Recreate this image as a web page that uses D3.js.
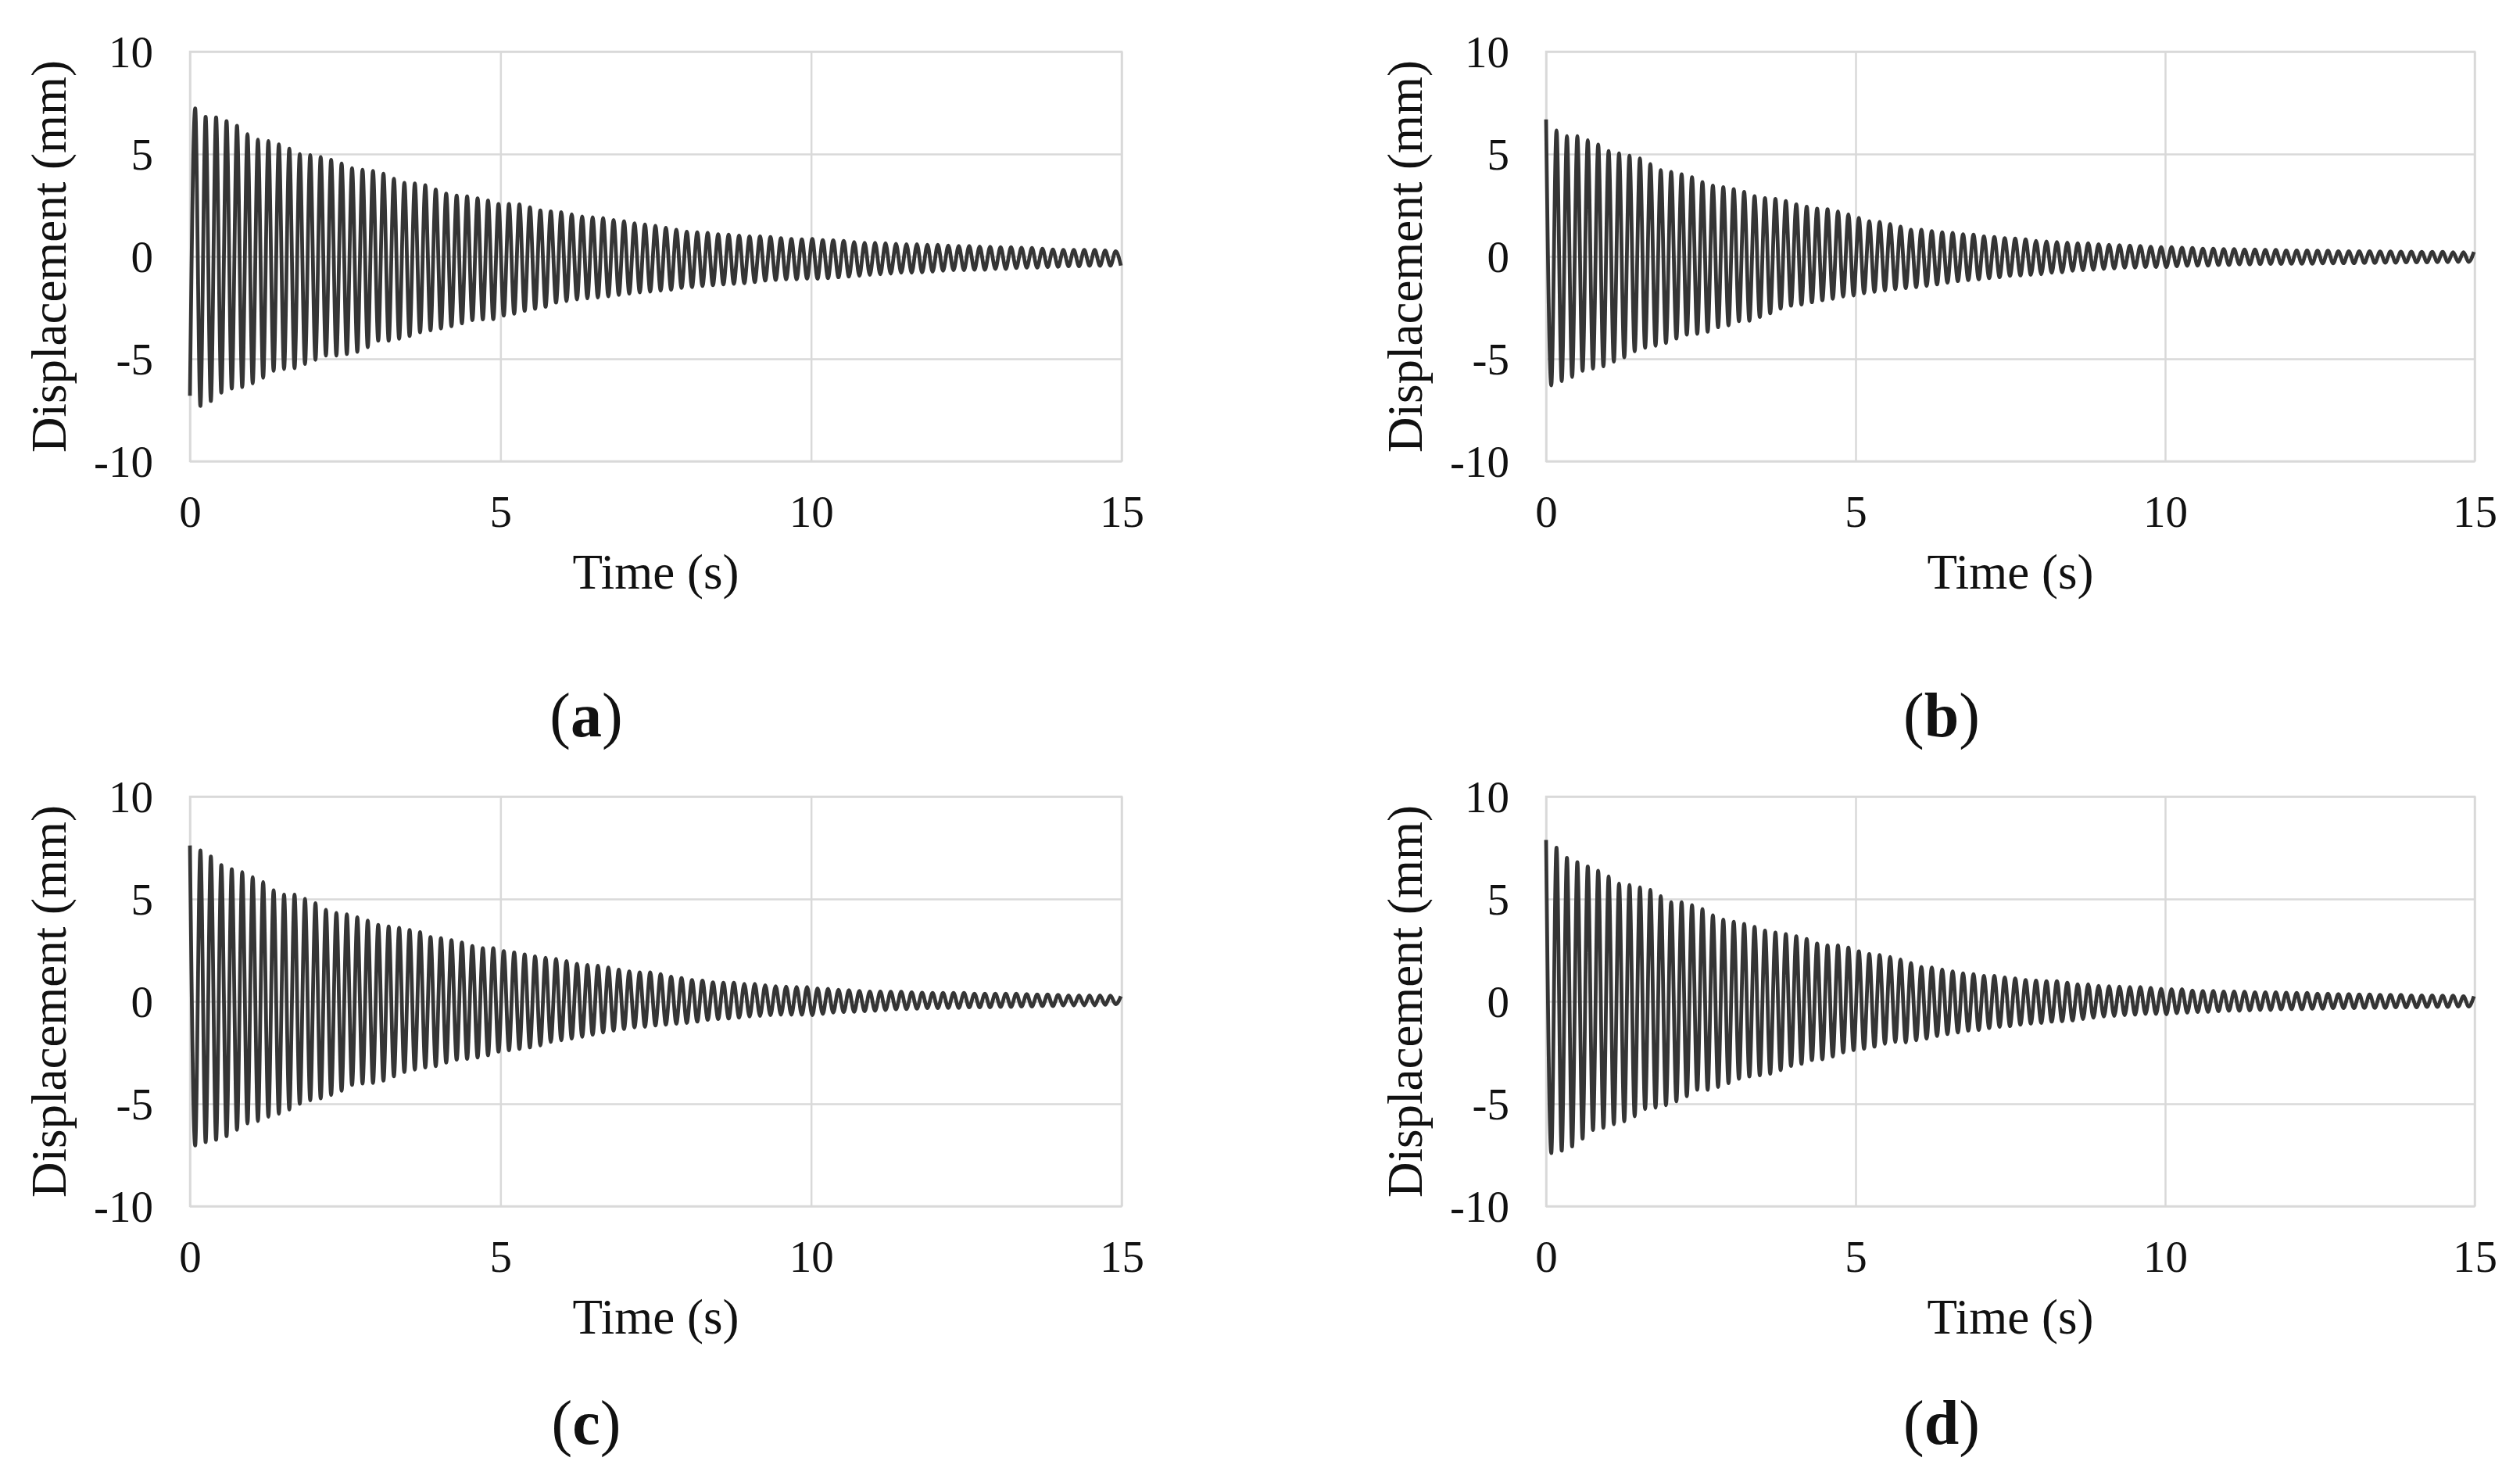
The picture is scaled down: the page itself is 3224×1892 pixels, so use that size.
<!DOCTYPE html>
<html>
<head>
<meta charset="utf-8">
<script src="https://cdn.jsdelivr.net/npm/d3@7/dist/d3.min.js"></script>
<style>
  html, body { margin: 0; padding: 0; background: #ffffff; }
  svg { display: block; }
</style>
</head>
<body>
<svg id="chart" width="3224" height="1892"></svg>
<script>
// ---------------- DATA ----------------
// Successive extreme values (mm) of each damped response; one extreme every half period.
const halfPeriod = 0.0842;           // s, read from cycle spacing
const timeTicks = [0, 5, 10, 15];
const timeTickLabels = ["0", "5", "10", "15"];
const dispTicks = [10, 5, 0, -5, -10];
const dispTickLabels = ["10", "5", "0", "-5", "-10"];
const panelLabels = ["a", "b", "c", "d"];

// Panel (a): starts at a trough
const troughsA = [-6.8, -7.30, -7.06, -6.65, -6.45, -6.38, -6.20, -5.93, -5.59, -5.50, -5.46, -5.25, -5.05, -4.84, -4.84, -4.77, -4.66, -4.43, -4.12, -4.12, -4.02, -3.89, -3.71, -3.61, -3.52, -3.41, -3.27, -3.11, -3.08, -3.07, -2.89, -2.80, -2.66, -2.56,
  -2.46, -2.26, -2.18, -2.10, -2.05, -2.01, -1.95, -1.88, -1.82, -1.76, -1.72, -1.67, -1.63, -1.54, -1.50, -1.44, -1.41, -1.37, -1.34, -1.31, -1.25, -1.18, -1.15, -1.12, -1.12, -1.09, -1.09, -1.06, -1.02, -0.99, -0.95, -0.90, -0.87, -0.84, -0.80, -0.80, -0.78, -0.74, -0.70, -0.67, -0.67, -0.65, -0.65, -0.61, -0.61, -0.57, -0.55, -0.55, -0.52, -0.51, -0.48, -0.48, -0.46, -0.46, -0.45, -0.45];
const peaksA = [7.23, 6.82, 6.79, 6.61, 6.38, 5.97, 5.70, 5.63, 5.47, 5.26, 4.99, 4.95, 4.85, 4.72, 4.54, 4.31, 4.23, 4.17, 4.04, 3.79, 3.59, 3.56, 3.48, 3.27, 3.07, 2.97, 2.93, 2.84, 2.73, 2.56, 2.56, 2.54, 2.40, 2.25,
  2.20, 2.16, 2.06, 1.95, 1.91, 1.87, 1.78, 1.72, 1.62, 1.56, 1.49, 1.40, 1.30, 1.21, 1.18, 1.15, 1.08, 1.06, 1.02, 0.98, 0.98, 0.95, 0.89, 0.85, 0.83, 0.85, 0.80, 0.79, 0.76, 0.70, 0.66, 0.66, 0.64, 0.61, 0.60, 0.60, 0.57, 0.57, 0.53, 0.51, 0.51, 0.48, 0.47, 0.45, 0.45, 0.42, 0.41, 0.38, 0.34, 0.32, 0.32, 0.32, 0.32, 0.29, 0.25];

// Panel (b): starts at a peak
const peaksB = [6.69, 6.15, 5.87, 5.87, 5.67, 5.46, 5.15, 5.03, 4.92, 4.78, 4.51, 4.21, 4.13, 4.01, 3.87, 3.63, 3.46, 3.38, 3.29, 3.15, 2.94, 2.85, 2.81, 2.70, 2.54, 2.43, 2.33, 2.30, 2.20, 2.06, 1.88, 1.72, 1.68, 1.58,
  1.45, 1.30, 1.30, 1.23, 1.18, 1.15, 1.08, 1.06, 0.98, 0.95, 0.89, 0.87, 0.83, 0.76, 0.73, 0.70, 0.67, 0.64, 0.64, 0.60, 0.57, 0.55, 0.53, 0.51, 0.47, 0.45, 0.45, 0.42, 0.41, 0.38, 0.38, 0.36, 0.36, 0.34, 0.34, 0.32, 0.32, 0.29, 0.29, 0.29, 0.28, 0.28, 0.25, 0.25, 0.25, 0.25, 0.24, 0.24, 0.23, 0.23, 0.22, 0.22, 0.22, 0.20, 0.20, 0.22];
const troughsB = [-6.30, -6.09, -5.89, -5.59, -5.48, -5.37, -5.14, -4.93, -4.63, -4.46, -4.36, -4.23, -4.01, -3.82, -3.78, -3.68, -3.46, -3.37, -3.16, -3.14, -2.96, -2.78, -2.55, -2.41, -2.35, -2.24, -2.14, -2.07, -1.96, -1.91, -1.80, -1.73, -1.66, -1.60,
  -1.55, -1.50, -1.44, -1.37, -1.28, -1.21, -1.16, -1.12, -1.06, -1.02, -0.95, -0.93, -0.90, -0.87, -0.80, -0.78, -0.70, -0.67, -0.65, -0.61, -0.59, -0.55, -0.55, -0.52, -0.52, -0.52, -0.48, -0.46, -0.45, -0.45, -0.42, -0.42, -0.39, -0.39, -0.38, -0.37, -0.37, -0.36, -0.36, -0.36, -0.34, -0.34, -0.33, -0.33, -0.32, -0.32, -0.31, -0.31, -0.29, -0.29, -0.29, -0.28, -0.28, -0.27, -0.27];

// Panel (c): starts at a peak
const peaksC = [7.61, 7.37, 7.07, 6.65, 6.45, 6.31, 6.06, 5.82, 5.42, 5.21, 5.21, 5.00, 4.79, 4.47, 4.32, 4.25, 4.11, 3.94, 3.73, 3.66, 3.59, 3.49, 3.38, 3.14, 3.09, 2.99, 2.88, 2.70, 2.60, 2.60, 2.46, 2.39, 2.29, 2.20,
  2.13, 2.07, 1.97, 1.84, 1.78, 1.74, 1.65, 1.55, 1.46, 1.42, 1.42, 1.33, 1.21, 1.14, 1.04, 1.02, 0.93, 0.91, 0.91, 0.85, 0.85, 0.79, 0.74, 0.72, 0.70, 0.70, 0.63, 0.61, 0.57, 0.55, 0.51, 0.48, 0.48, 0.47, 0.47, 0.44, 0.42, 0.41, 0.41, 0.41, 0.41, 0.38, 0.38, 0.38, 0.38, 0.38, 0.36, 0.34, 0.34, 0.32, 0.29, 0.29, 0.29, 0.29, 0.28, 0.25];
const troughsC = [-7.04, -6.87, -6.76, -6.58, -6.27, -5.96, -5.84, -5.63, -5.49, -5.28, -5.00, -4.83, -4.74, -4.57, -4.36, -4.08, -4.01, -3.98, -3.87, -3.66, -3.45, -3.33, -3.23, -3.16, -2.99, -2.85, -2.81, -2.74, -2.63, -2.46, -2.39, -2.32, -2.25, -2.15,
  -1.98, -1.90, -1.82, -1.73, -1.63, -1.52, -1.43, -1.35, -1.27, -1.24, -1.18, -1.14, -1.09, -1.05, -0.99, -0.90, -0.86, -0.84, -0.80, -0.74, -0.71, -0.67, -0.65, -0.65, -0.65, -0.67, -0.61, -0.55, -0.52, -0.51, -0.48, -0.46, -0.42, -0.39, -0.38, -0.36, -0.33, -0.33, -0.32, -0.32, -0.29, -0.29, -0.29, -0.27, -0.27, -0.25, -0.25, -0.23, -0.23, -0.20, -0.20, -0.19, -0.19, -0.17, -0.14];

// Panel (d): starts at a peak
const peaksD = [7.88, 7.50, 7.01, 6.80, 6.59, 6.38, 6.10, 5.75, 5.68, 5.57, 5.44, 5.14, 4.84, 4.84, 4.70, 4.51, 4.20, 3.99, 3.89, 3.78, 3.64, 3.46, 3.36, 3.29, 3.18, 3.05, 2.83, 2.73, 2.73, 2.63, 2.45, 2.31, 2.27, 2.17,
  2.05, 1.87, 1.68, 1.65, 1.55, 1.46, 1.37, 1.33, 1.24, 1.24, 1.17, 1.12, 1.04, 1.02, 0.99, 0.99, 0.91, 0.83, 0.83, 0.76, 0.74, 0.72, 0.70, 0.70, 0.66, 0.61, 0.60, 0.60, 0.53, 0.51, 0.51, 0.48, 0.48, 0.47, 0.44, 0.44, 0.44, 0.42, 0.41, 0.41, 0.38, 0.38, 0.36, 0.36, 0.34, 0.34, 0.32, 0.32, 0.32, 0.29, 0.29, 0.29, 0.28, 0.28, 0.25, 0.25];
const troughsD = [-7.41, -7.29, -7.08, -6.70, -6.28, -6.17, -6.00, -5.86, -5.61, -5.26, -5.19, -5.07, -4.88, -4.63, -4.32, -4.32, -4.18, -3.99, -3.78, -3.67, -3.61, -3.53, -3.36, -3.15, -3.05, -2.87, -2.83, -2.69, -2.49, -2.38, -2.31, -2.21, -2.07, -1.98,
  -2.01, -1.90, -1.82, -1.69, -1.60, -1.52, -1.43, -1.40, -1.31, -1.24, -1.21, -1.14, -1.09, -1.05, -0.99, -0.97, -0.93, -0.86, -0.80, -0.74, -0.71, -0.67, -0.65, -0.61, -0.61, -0.63, -0.58, -0.55, -0.52, -0.51, -0.48, -0.46, -0.46, -0.44, -0.42, -0.42, -0.39, -0.38, -0.38, -0.36, -0.36, -0.33, -0.33, -0.33, -0.32, -0.32, -0.32, -0.29, -0.29, -0.29, -0.27, -0.27, -0.27, -0.25, -0.25];

// ---------------- LAYOUT ----------------
const panels = [
  { label: panelLabels[0], peaks: peaksA, troughs: troughsA, firstIsPeak: false, x0: 243,  x1: 1435, y0: 66,   y1: 590,  labelX: 750,  labelY: 942 },
  { label: panelLabels[1], peaks: peaksB, troughs: troughsB, firstIsPeak: true,  x0: 1978, x1: 3166, y0: 66,   y1: 590,  labelX: 2484, labelY: 942 },
  { label: panelLabels[2], peaks: peaksC, troughs: troughsC, firstIsPeak: true,  x0: 243,  x1: 1435, y0: 1019, y1: 1543, labelX: 750,  labelY: 1847 },
  { label: panelLabels[3], peaks: peaksD, troughs: troughsD, firstIsPeak: true,  x0: 1978, x1: 3166, y0: 1019, y1: 1543, labelX: 2484, labelY: 1847 }
];

const FONT = '"Liberation Serif", "Times New Roman", Times, serif';
const GRID = "#d9d9d9";
const LINE = "#353535";

const svg = d3.select("#chart");
svg.append("rect").attr("width", 3224).attr("height", 1892).attr("fill", "#ffffff");

function buildSeries(p) {
  const n = p.peaks.length + p.troughs.length;
  const pts = [];
  for (let k = 0; k < n; k++) {
    const idx = Math.floor(k / 2);
    const usePeak = p.firstIsPeak ? (k % 2 === 0) : (k % 2 === 1);
    const v = usePeak ? p.peaks[idx] : p.troughs[idx];
    if (v === undefined) continue;
    pts.push({ t: k * halfPeriod, v: v });
  }
  return pts;
}

panels.forEach(p => {
  const x = d3.scaleLinear().domain([0, 15]).range([p.x0, p.x1]);
  const y = d3.scaleLinear().domain([-10, 10]).range([p.y1, p.y0]);
  const g = svg.append("g");
  const w = p.x1 - p.x0, h = p.y1 - p.y0;

  // vertical gridlines + x tick labels
  const xAxis = d3.axisBottom(x).tickValues(timeTicks)
    .tickFormat((d, i) => timeTickLabels[i]).tickSize(-h).tickPadding(0);
  const gx = g.append("g").attr("transform", `translate(0,${p.y1})`).call(xAxis);
  gx.select(".domain").remove();
  gx.selectAll(".tick line").attr("stroke", GRID).attr("stroke-width", 2.5);
  gx.selectAll(".tick text").attr("y", 84).attr("dy", 0)
    .attr("fill", "#111").style("font-family", FONT).style("font-size", "57px");

  // horizontal gridlines + y tick labels
  const yAxis = d3.axisLeft(y).tickValues(dispTicks)
    .tickFormat((d, i) => dispTickLabels[i]).tickSize(-w).tickPadding(47);
  const gy = g.append("g").attr("transform", `translate(${p.x0},0)`).call(yAxis);
  gy.select(".domain").remove();
  gy.selectAll(".tick line").attr("stroke", GRID).attr("stroke-width", 2.5);
  gy.selectAll(".tick text").attr("dy", "0.34em")
    .attr("fill", "#111").style("font-family", FONT).style("font-size", "57px");

  // plot border
  g.append("rect").attr("x", p.x0).attr("y", p.y0).attr("width", w).attr("height", h)
    .attr("fill", "none").attr("stroke", GRID).attr("stroke-width", 2.5);

  // series
  const series = buildSeries(p);
  const line = d3.line().x(d => x(d.t)).y(d => y(d.v)).curve(d3.curveMonotoneX);
  g.append("path").datum(series).attr("d", line)
    .attr("fill", "none").attr("stroke", LINE).attr("stroke-width", 4.8).attr("stroke-linejoin", "round");

  // axis titles
  g.append("text").attr("x", (p.x0 + p.x1) / 2).attr("y", p.y1 + 163)
    .attr("text-anchor", "middle").attr("fill", "#111")
    .style("font-family", FONT).style("font-size", "63px").text("Time (s)");
  g.append("text").attr("transform", `translate(${p.x0 - 180},${(p.y0 + p.y1) / 2}) rotate(-90)`)
    .attr("text-anchor", "middle").attr("dy", "0.33em").attr("fill", "#111")
    .style("font-family", FONT).style("font-size", "63px").text("Displacement (mm)");

  // panel label (a) etc.
  const lt = g.append("text").attr("x", p.labelX).attr("y", p.labelY)
    .attr("text-anchor", "middle").attr("fill", "#111")
    .style("font-family", FONT).style("font-size", "80px");
  lt.append("tspan").text("(");
  lt.append("tspan").style("font-weight", "bold").text(p.label);
  lt.append("tspan").text(")");
});
</script>
</body>
</html>
